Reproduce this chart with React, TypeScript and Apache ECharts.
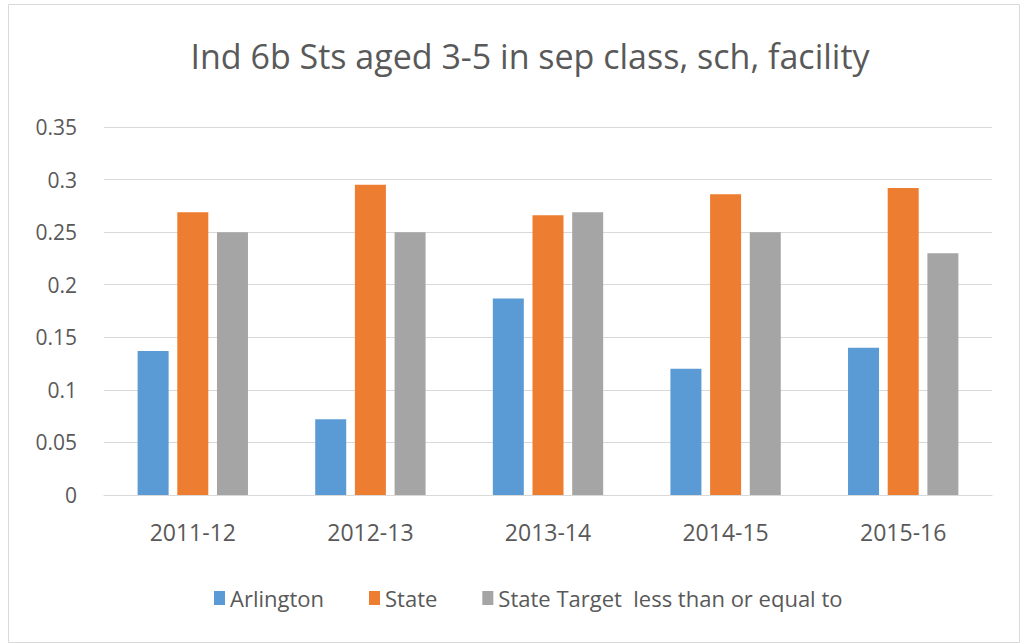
import React, { useEffect, useRef } from "react";
import * as echarts from "echarts";

const categories = ["2011-12", "2012-13", "2013-14", "2014-15", "2015-16"];
const arlington = [0.137, 0.072, 0.187, 0.12, 0.14];
const state = [0.269, 0.295, 0.266, 0.286, 0.292];
const stateTarget = [0.25, 0.25, 0.269, 0.25, 0.23];
const seriesNames = ["Arlington", "State", "State Target  less than or equal to"];
const titleText = "Ind 6b Sts aged 3-5 in sep class, sch, facility";

export default function App() {
  const ref = useRef<HTMLDivElement>(null);
  useEffect(() => {
    if (!ref.current) return;
    const chart = echarts.init(ref.current, undefined, { renderer: "svg" });
    const font = "'Open Sans', sans-serif";
    chart.setOption({
      animation: false,
      backgroundColor: "#ffffff",
      title: {
        text: titleText,
        left: 525,
        textAlign: "center",
        top: 34,
        textStyle: { fontFamily: font, fontSize: 34, fontWeight: "normal", color: "#595959" },
      },
      graphic: [
        {
          type: "rect",
          shape: { x: 8.5, y: 4.5, width: 1011, height: 638 },
          style: { fill: "none", stroke: "#d9d9d9", lineWidth: 1 },
          silent: true,
        },
      ],
      legend: {
        data: seriesNames,
        top: 587,
        left: 214,
        padding: 0,
        itemWidth: 11,
        itemHeight: 14,
        itemGap: 45,
        icon: "rect",
        textStyle: { fontFamily: font, fontSize: 22, color: "#595959" },
      },
      grid: { left: 104, right: 35, top: 127, bottom: 149 },
      xAxis: {
        type: "category",
        data: categories,
        axisLine: { lineStyle: { color: "#d9d9d9" } },
        axisTick: { show: false },
        axisLabel: { fontFamily: font, fontSize: 23, color: "#595959", margin: 25 },
      },
      yAxis: {
        type: "value",
        min: 0,
        max: 0.35,
        interval: 0.05,
        axisLine: { show: false },
        axisTick: { show: false },
        splitLine: { lineStyle: { color: "#d9d9d9" } },
        axisLabel: {
          fontFamily: font,
          fontSize: 21,
          color: "#595959",
          margin: 27,
          formatter: (v: number) => String(Math.round(v * 100) / 100),
        },
      },
      series: [
        { name: seriesNames[0], type: "bar", data: arlington, barWidth: 31, barGap: "28%", itemStyle: { color: "#5b9bd5" } },
        { name: seriesNames[1], type: "bar", data: state, barWidth: 31, barGap: "28%", itemStyle: { color: "#ed7d31" } },
        { name: seriesNames[2], type: "bar", data: stateTarget, barWidth: 31, barGap: "28%", itemStyle: { color: "#a5a5a5" } },
      ],
    });
    return () => chart.dispose();
  }, []);
  return <div ref={ref} style={{ width: 1027, height: 644, position: "absolute", left: 0, top: 0 }} />;
}
